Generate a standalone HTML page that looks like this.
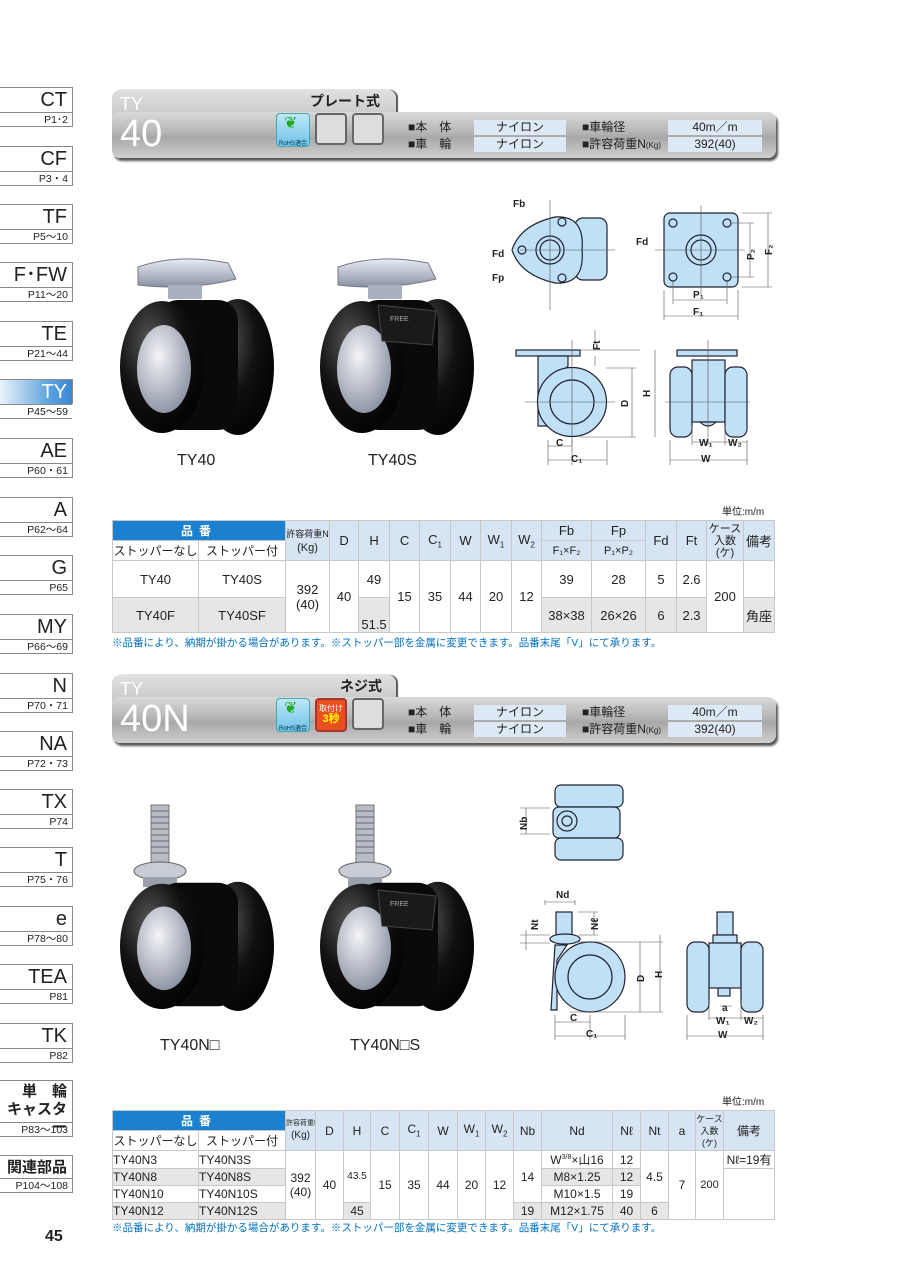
<!DOCTYPE html>
<html><head><meta charset="utf-8">
<style>
*{margin:0;padding:0;box-sizing:border-box}
body{width:900px;height:1273px;position:relative;background:#fff;font-family:"Liberation Sans","Noto Sans CJK JP",sans-serif;color:#222;overflow:hidden}
.a{position:absolute}
.tab{position:absolute;left:0;width:73px;height:40px;border-top:1px solid #888;border-right:1px solid #888}
.tab .b{position:absolute;right:5px;top:0;font-size:20px;line-height:24px;color:#222}
.tab .p{position:absolute;left:0;right:0;bottom:0;height:15px;border-top:1px solid #888;border-bottom:1px solid #888;font-size:10.5px;text-align:right;padding-right:4px;line-height:14px}
.tab.on .b{color:#fff}
.tab.on{background:linear-gradient(90deg,#eaf3fb,#5aa0dd 70%,#3b88d3);height:25px}
.tab.on .p{bottom:-15px;background:#fff}
.band{position:absolute;left:112px;width:664px;height:46px;border-radius:8px;background:linear-gradient(#d9d9d9,#b5b5b5 45%,#a8a8a8 55%,#cfcfcf);box-shadow:2px 3px 2px #555}
.btab{position:absolute;left:112px;width:284px;height:40px;border-radius:8px 8px 0 0;background:linear-gradient(#e0e0e0,#bdbdbd);box-shadow:2px 0 1px #555}
.ttl{position:absolute;color:#fff;font-size:18px;line-height:18px}
.big{position:absolute;color:#fff;font-size:38px;line-height:38px}
.spec{position:absolute;font-size:12px;line-height:16px}
.val{position:absolute;background:#dde9f5;font-size:12px;text-align:center;line-height:15px;height:15px}
.sq{position:absolute;width:32px;height:32px;border:2px solid #666;border-radius:4px;background:#ddd}
table{position:absolute;border-collapse:collapse;font-size:12px;table-layout:fixed}
td{border:1px solid #c8c8c8;text-align:center;vertical-align:middle;padding:0;overflow:hidden;white-space:nowrap}
.t1 td{font-size:13px}
.h{background:#d6e4f3}
.hb{background:#1b80cf;color:#fff;font-weight:bold;letter-spacing:6px}
.g{background:#e6e6e6}
.note{position:absolute;left:112px;font-size:10.5px;color:#0070c0}
.unit{position:absolute;left:722px;font-size:10px}
.lbl{position:absolute;font-size:16px;color:#222}
</style></head><body>

<div class="tab" style="top:87px"><span class="b">CT</span><div class="p">P1･2</div></div>
<div class="tab" style="top:146px"><span class="b">CF</span><div class="p">P3・4</div></div>
<div class="tab" style="top:204px"><span class="b">TF</span><div class="p">P5～10</div></div>
<div class="tab" style="top:262px"><span class="b">F･FW</span><div class="p">P11～20</div></div>
<div class="tab" style="top:321px"><span class="b">TE</span><div class="p">P21～44</div></div>
<div class="tab on" style="top:379px"><span class="b">TY</span><div class="p">P45～59</div></div>
<div class="tab" style="top:438px"><span class="b">AE</span><div class="p">P60・61</div></div>
<div class="tab" style="top:497px"><span class="b">A</span><div class="p">P62～64</div></div>
<div class="tab" style="top:555px"><span class="b">G</span><div class="p">P65</div></div>
<div class="tab" style="top:614px"><span class="b">MY</span><div class="p">P66～69</div></div>
<div class="tab" style="top:673px"><span class="b">N</span><div class="p">P70・71</div></div>
<div class="tab" style="top:731px"><span class="b">NA</span><div class="p">P72・73</div></div>
<div class="tab" style="top:789px"><span class="b">TX</span><div class="p">P74</div></div>
<div class="tab" style="top:847px"><span class="b">T</span><div class="p">P75・76</div></div>
<div class="tab" style="top:906px"><span class="b">e</span><div class="p">P78～80</div></div>
<div class="tab" style="top:964px"><span class="b">TEA</span><div class="p">P81</div></div>
<div class="tab" style="top:1023px"><span class="b">TK</span><div class="p">P82</div></div>
<div class="tab" style="top:1080px;height:57px"><span class="b" style="font-size:15px;line-height:18px;font-weight:bold;text-align:right;top:2px">単　輪<br>キャスター</span><div class="p">P83～103</div></div>
<div class="tab" style="top:1155px;height:38px"><span class="b" style="font-size:15px;font-weight:bold">関連部品</span><div class="p">P104～108</div></div>
<div class="a" style="left:45px;top:1228px;font-size:16px;font-weight:bold">45</div>

<div class="btab" style="top:90px"></div>
<div class="band" style="top:112px"></div>
<div class="ttl" style="left:120px;top:95px">TY</div>
<div class="big" style="left:120px;top:115px">40</div>
<div class="a" style="left:310px;top:91px;font-size:14px;font-weight:bold">プレート式</div>
<div class="a" style="left:276px;top:113px;width:34px;height:34px;border-radius:4px;background:linear-gradient(#bfe6f8,#6fc3ea);border:1px solid #4aa;font-size:6px;text-align:center;padding-top:24px;color:#034">RoHS適合</div>
<div class="a" style="left:284px;top:116px;width:18px;height:16px;color:#2a2;font-size:16px;line-height:16px">❦</div>
<div class="sq" style="left:315px;top:113px"></div>
<div class="sq" style="left:352px;top:113px"></div>
<div class="spec" style="left:408px;top:119px">■本　体</div>
<div class="spec" style="left:408px;top:136px">■車　輪</div>
<div class="val" style="left:474px;top:120px;width:92px">ナイロン</div>
<div class="val" style="left:474px;top:137px;width:92px">ナイロン</div>
<div class="spec" style="left:582px;top:119px">■車輪径</div>
<div class="spec" style="left:582px;top:136px">■許容荷重N<span style="font-size:8px">(Kg)</span></div>
<div class="val" style="left:668px;top:120px;width:94px">40m／m</div>
<div class="val" style="left:668px;top:137px;width:94px">392(40)</div>

<div class="btab" style="top:675px"></div>
<div class="band" style="top:697px"></div>
<div class="ttl" style="left:120px;top:680px">TY</div>
<div class="big" style="left:120px;top:700px">40N</div>
<div class="a" style="left:340px;top:676px;font-size:14px;font-weight:bold">ネジ式</div>
<div class="a" style="left:276px;top:698px;width:34px;height:34px;border-radius:4px;background:linear-gradient(#bfe6f8,#6fc3ea);border:1px solid #4aa;font-size:6px;text-align:center;padding-top:24px;color:#034">RoHS適合</div>
<div class="a" style="left:284px;top:701px;width:18px;height:16px;color:#2a2;font-size:16px;line-height:16px">❦</div>
<div class="a" style="left:315px;top:698px;width:32px;height:34px;border-radius:4px;background:#e8501e;border:2px solid #a33;color:#fff;font-size:8px;text-align:center;line-height:10px;padding-top:4px">取付け<br><b style="font-size:11px;color:#ff0">3秒</b></div>
<div class="sq" style="left:352px;top:698px"></div>
<div class="spec" style="left:408px;top:704px">■本　体</div>
<div class="spec" style="left:408px;top:721px">■車　輪</div>
<div class="val" style="left:474px;top:705px;width:92px">ナイロン</div>
<div class="val" style="left:474px;top:722px;width:92px">ナイロン</div>
<div class="spec" style="left:582px;top:704px">■車輪径</div>
<div class="spec" style="left:582px;top:721px">■許容荷重N<span style="font-size:8px">(Kg)</span></div>
<div class="val" style="left:668px;top:705px;width:94px">40m／m</div>
<div class="val" style="left:668px;top:722px;width:94px">392(40)</div>

<svg class="a" style="left:0;top:0" width="900" height="1273" viewBox="0 0 900 1273">
<defs>
<radialGradient id="blk" cx="0.35" cy="0.3" r="0.8"><stop offset="0" stop-color="#555"/><stop offset="0.5" stop-color="#111"/><stop offset="1" stop-color="#000"/></radialGradient>
<radialGradient id="hub" cx="0.4" cy="0.35" r="0.7"><stop offset="0" stop-color="#f4f4f8"/><stop offset="1" stop-color="#8890a0"/></radialGradient>
<linearGradient id="plt" x1="0" y1="0" x2="0" y2="1"><stop offset="0" stop-color="#e8ecf4"/><stop offset="1" stop-color="#8a92a4"/></linearGradient>
<g id="wheel">
 <ellipse cx="120" cy="112" rx="36" ry="68" fill="url(#blk)"/>
 <rect x="40" y="45" width="80" height="130" rx="20" fill="#0a0a0a"/>
 <ellipse cx="44" cy="112" rx="42" ry="66" fill="url(#blk)"/>
 <ellipse cx="46" cy="114" rx="27" ry="44" fill="url(#hub)"/>
</g>
<g id="plate">
 <path d="M20 12 Q60 -2 110 8 L118 24 Q70 36 20 30 Z" fill="url(#plt)" stroke="#778"/>
 <rect x="50" y="30" width="34" height="14" fill="#a8b0c0"/>
</g>
<g id="stud">
 <rect x="38" y="0" width="18" height="58" fill="#b8bcc4" stroke="#777"/>
 <path d="M38 6h18M38 12h18M38 18h18M38 24h18M38 30h18M38 36h18M38 42h18M38 48h18" stroke="#667"/>
 <ellipse cx="47" cy="66" rx="26" ry="9" fill="#c8ccd4" stroke="#666"/>
 <rect x="30" y="72" width="34" height="10" fill="#9aa0ac"/>
</g>
</defs>
<g transform="translate(118,255)"><use href="#plate"/><use href="#wheel"/></g>
<g transform="translate(318,255)"><use href="#plate"/><use href="#wheel"/><path d="M60 50 L118 56 L114 90 L64 86 Z" fill="#1a1a1a" stroke="#444"/><text x="72" y="66" font-size="7" fill="#aaa" font-family="Liberation Sans">FREE</text></g>
<g transform="translate(118,805)"><use href="#stud" transform="translate(-5,0)"/><use href="#wheel" transform="translate(0,35) scale(1,0.95)"/></g>
<g transform="translate(318,805)"><use href="#stud"/><use href="#wheel" transform="translate(0,35) scale(1,0.95)"/><path d="M60 85 L118 91 L114 125 L64 121 Z" fill="#1a1a1a" stroke="#444"/><text x="72" y="101" font-size="7" fill="#aaa" font-family="Liberation Sans">FREE</text></g>

<g fill="#bfe0f5" stroke="#223" stroke-width="1.2">
<rect x="575" y="218" width="32" height="62" rx="8"/>
<path d="M512 250 Q520 225 555 217 Q585 215 582 250 Q585 285 555 283 Q520 275 512 250 Z"/>
<circle cx="550" cy="250" r="14"/><circle cx="550" cy="250" r="10"/>
<circle cx="562" cy="222" r="4"/><circle cx="522" cy="250" r="4"/><circle cx="562" cy="278" r="4"/>
<rect x="664" y="213" width="74" height="74" rx="6"/>
<circle cx="701" cy="250" r="15"/><circle cx="701" cy="250" r="10"/>
<circle cx="673" cy="223" r="4"/><circle cx="727" cy="223" r="4"/><circle cx="673" cy="277" r="4"/><circle cx="727" cy="277" r="4"/>
<rect x="516" y="350" width="64" height="6"/>
<path d="M538 356 h30 v10 l-20 20 v40 h-10 z"/>
<circle cx="572" cy="402" r="34.5"/><circle cx="572" cy="402" r="22"/>
<rect x="677" y="350" width="60" height="6"/>
<rect x="692" y="360" width="33" height="62"/>
<path d="M700 422 q8 8 16 0z"/>
<rect x="670" y="367" width="22" height="70" rx="8"/>
<rect x="725" y="367" width="22" height="70" rx="8"/>
<rect x="555" y="785" width="68" height="22" rx="6"/>
<rect x="553" y="807" width="67" height="31" rx="6"/>
<rect x="555" y="838" width="68" height="22" rx="6"/>
<circle cx="567" cy="821" r="10"/><circle cx="567" cy="821" r="5"/>
<rect x="556" y="912" width="16" height="23"/>
<ellipse cx="565" cy="939" rx="15" ry="5"/>
<path d="M555 945 h12 l-10 15 v50 h-6 z"/>
<circle cx="590" cy="977" r="35"/><circle cx="590" cy="977" r="22"/>
<rect x="717" y="912" width="16" height="23"/><rect x="713" y="935" width="24" height="8"/>
<rect x="709" y="943" width="32" height="45"/>
<rect x="718" y="988" width="12" height="8"/>
<rect x="687" y="942" width="22" height="70" rx="8"/>
<rect x="741" y="942" width="22" height="70" rx="8"/>
</g>
<g stroke="#555" stroke-width="0.6" fill="none">
<path d="M550 200v110M520 250h95M701 205v90M655 250h90M572 340v105M525 402h90M708 340v105M665 402h85"/>
<path d="M742 213h30M742 287h30M768 213v74M732 223h22M732 277h22M750 223v54M664 290v30M738 290v30M664 316h74M673 282v22M727 282v22M673 300h54"/>
<path d="M580 350h60M606 368h30M606 437h30M632 368v69M584 350h30M580 437h54M655 350v87M595 345v-15M595 356v10"/>
<path d="M548 440v25M572 440v25M607 440v25M548 446h24M548 460h59M670 440v25M747 440v25M692 425v20M725 425v20M670 460h77M692 442h33M725 442h22"/>
<path d="M520 808h30M520 834h30M526 808v26M545 905v-5M575 905v-5M545 902h30M578 912h20M578 935h20M594 912v23M520 935h30M520 943h30M526 930v20M575 942h88M570 1012h93M640 942v70M660 935v77M555 1015v25M590 1015v25M625 1015v25M555 1022h35M555 1036h70M687 1015v25M763 1015v25M709 1000v20M741 1000v20M687 1036h76M709 1018h32M741 1018h22M720 1006h12"/>
</g>
<g font-family="Liberation Sans" font-size="10" fill="#222" font-weight="bold">
<text x="513" y="207">Fb</text><text x="492" y="257">Fd</text><text x="492" y="281">Fp</text>
<text x="636" y="245">Fd</text>
<text x="754" y="260" transform="rotate(-90 754 260)">P₂</text>
<text x="772" y="255" transform="rotate(-90 772 255)">F₂</text>
<text x="693" y="298">P₁</text><text x="693" y="315">F₁</text>
<text x="600" y="350" transform="rotate(-90 600 350)">Ft</text>
<text x="628" y="407" transform="rotate(-90 628 407)">D</text>
<text x="650" y="397" transform="rotate(-90 650 397)">H</text>
<text x="556" y="446">C</text><text x="571" y="462">C₁</text>
<text x="699" y="446">W₁</text><text x="728" y="446">W₂</text><text x="701" y="462">W</text>
<text x="527" y="830" transform="rotate(-90 527 830)">Nb</text>
<text x="556" y="898">Nd</text>
<text x="538" y="930" transform="rotate(-90 538 930)">Nt</text>
<text x="598" y="930" transform="rotate(-90 598 930)">Nℓ</text>
<text x="644" y="982" transform="rotate(-90 644 982)">D</text>
<text x="662" y="978" transform="rotate(-90 662 978)">H</text>
<text x="570" y="1021">C</text><text x="586" y="1037">C₁</text>
<text x="722" y="1011">a</text><text x="716" y="1024">W₁</text><text x="744" y="1024">W₂</text><text x="718" y="1038">W</text>
</g>
</svg>

<div class="lbl" style="left:177px;top:452px">TY40</div>
<div class="lbl" style="left:368px;top:452px">TY40S</div>
<div class="lbl" style="left:160px;top:1037px">TY40N□</div>
<div class="lbl" style="left:350px;top:1037px">TY40N□S</div>

<div class="unit" style="top:503px">単位:m/m</div>
<table class="t1" style="left:112px;top:520px;width:662px">
<colgroup><col style="width:86px"><col style="width:87px"><col style="width:44px"><col style="width:29px"><col style="width:31px"><col style="width:30px"><col style="width:31px"><col style="width:30px"><col style="width:31px"><col style="width:30px"><col style="width:50px"><col style="width:54px"><col style="width:31px"><col style="width:30px"><col style="width:37px"><col style="width:31px"></colgroup>
<tr style="height:20px"><td colspan="2" class="hb" style="font-size:12px">品番</td><td rowspan="2" class="h" style="font-size:9px;line-height:14px">許容荷重N<br><span style="font-size:11px">(Kg)</span></td><td rowspan="2" class="h">D</td><td rowspan="2" class="h">H</td><td rowspan="2" class="h">C</td><td rowspan="2" class="h">C<sub style="font-size:8px">1</sub></td><td rowspan="2" class="h">W</td><td rowspan="2" class="h">W<sub style="font-size:8px">1</sub></td><td rowspan="2" class="h">W<sub style="font-size:8px">2</sub></td><td class="h">Fb</td><td class="h">Fp</td><td rowspan="2" class="h">Fd</td><td rowspan="2" class="h">Ft</td><td rowspan="2" class="h" style="line-height:12px;font-size:11px">ケース<br>入数<br>(ケ)</td><td rowspan="2" class="h">備考</td></tr>
<tr style="height:20px"><td style="background:#fff;font-size:12px">ストッパーなし</td><td style="background:#fff;font-size:12px">ストッパー付</td><td class="h" style="font-size:11px">F₁×F₂</td><td class="h" style="font-size:11px">P₁×P₂</td></tr>
<tr style="height:37px"><td>TY40</td><td>TY40S</td><td rowspan="2">392<br>(40)</td><td rowspan="2">40</td><td>49</td><td rowspan="2">15</td><td rowspan="2">35</td><td rowspan="2">44</td><td rowspan="2">20</td><td rowspan="2">12</td><td>39</td><td>28</td><td>5</td><td>2.6</td><td rowspan="2">200</td><td></td></tr>
<tr style="height:35px"><td class="g">TY40F</td><td class="g">TY40SF</td><td class="g" style="vertical-align:bottom">51.5</td><td class="g">38×38</td><td class="g">26×26</td><td class="g">6</td><td class="g">2.3</td><td class="g">角座</td></tr>
</table>
<div class="note" style="top:635px">※品番により、納期が掛かる場合があります。※ストッパー部を金属に変更できます。品番末尾「V」にて承ります。</div>

<div class="unit" style="top:1093px">単位:m/m</div>
<table style="left:112px;top:1110px;width:662px">
<colgroup><col style="width:86px"><col style="width:87px"><col style="width:30px"><col style="width:28px"><col style="width:27px"><col style="width:29px"><col style="width:29px"><col style="width:29px"><col style="width:28px"><col style="width:28px"><col style="width:28px"><col style="width:71px"><col style="width:28px"><col style="width:28px"><col style="width:27px"><col style="width:28px"><col style="width:51px"></colgroup>
<tr style="height:20px"><td colspan="2" class="hb">品番</td><td rowspan="2" class="h" style="font-size:7px;line-height:12px">許容荷重N<br><span style="font-size:10px">(Kg)</span></td><td rowspan="2" class="h">D</td><td rowspan="2" class="h">H</td><td rowspan="2" class="h">C</td><td rowspan="2" class="h">C<sub style="font-size:8px">1</sub></td><td rowspan="2" class="h">W</td><td rowspan="2" class="h">W<sub style="font-size:8px">1</sub></td><td rowspan="2" class="h">W<sub style="font-size:8px">2</sub></td><td rowspan="2" class="h">Nb</td><td rowspan="2" class="h">Nd</td><td rowspan="2" class="h">Nℓ</td><td rowspan="2" class="h">Nt</td><td rowspan="2" class="h">a</td><td rowspan="2" class="h" style="line-height:12px;font-size:9px">ケース<br>入数<br>(ケ)</td><td rowspan="2" class="h">備考</td></tr>
<tr style="height:20px"><td style="background:#fff">ストッパーなし</td><td style="background:#fff">ストッパー付</td></tr>
<tr style="height:17px"><td style="text-align:left">TY40N3</td><td style="text-align:left">TY40N3S</td><td rowspan="4">392<br>(40)</td><td rowspan="4">40</td><td rowspan="3" style="font-size:10px">43.5</td><td rowspan="4">15</td><td rowspan="4">35</td><td rowspan="4">44</td><td rowspan="4">20</td><td rowspan="4">12</td><td rowspan="3">14</td><td>W<sup style="font-size:7px">3/8</sup>×山16</td><td>12</td><td rowspan="3">4.5</td><td rowspan="4">7</td><td rowspan="4" style="font-size:11px">200</td><td>Nℓ=19有</td></tr>
<tr style="height:17px"><td class="g" style="text-align:left">TY40N8</td><td class="g" style="text-align:left">TY40N8S</td><td class="g">M8×1.25</td><td class="g">12</td><td rowspan="3"></td></tr>
<tr style="height:17px"><td style="text-align:left">TY40N10</td><td style="text-align:left">TY40N10S</td><td>M10×1.5</td><td>19</td></tr>
<tr style="height:17px"><td class="g" style="text-align:left">TY40N12</td><td class="g" style="text-align:left">TY40N12S</td><td class="g">45</td><td class="g">19</td><td class="g">M12×1.75</td><td class="g">40</td><td class="g">6</td></tr>
</table>
<div class="note" style="top:1220px">※品番により、納期が掛かる場合があります。※ストッパー部を金属に変更できます。品番末尾「V」にて承ります。</div>
</body></html>
